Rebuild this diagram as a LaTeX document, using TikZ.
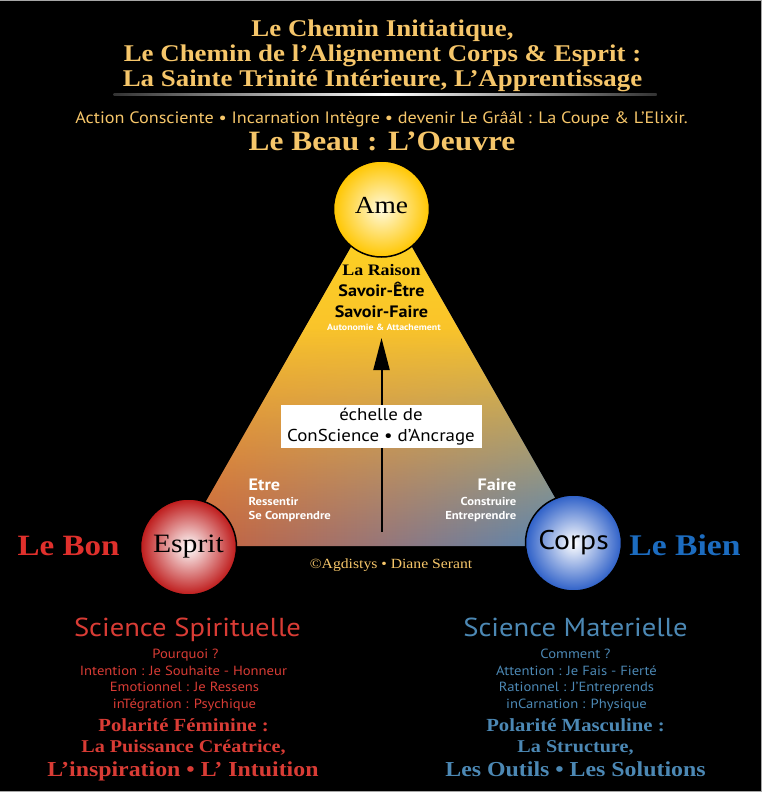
\documentclass[tikz,border=0pt]{standalone}
\usepackage{fontspec}
\setmainfont{Liberation Serif}[FakeStretch=1.12]
\setsansfont{PT Sans}[FakeStretch=1.1]
\usepackage{tikz}
\usetikzlibrary{arrows.meta,fadings}

\definecolor{gold}{RGB}{246,198,106}
\definecolor{bonred}{RGB}{224,48,44}
\definecolor{bienblue}{RGB}{28,108,192}
\definecolor{spired}{RGB}{217,60,53}
\definecolor{matblue}{RGB}{76,136,180}
\definecolor{rust}{RGB}{206,98,54}
\definecolor{mauve}{RGB}{150,118,122}
\definecolor{steel}{RGB}{78,138,188}
\definecolor{ameyellow}{RGB}{255,214,30}
\definecolor{ameorange}{RGB}{240,166,62}
\definecolor{amelight}{RGB}{255,250,222}
\definecolor{amegold}{RGB}{255,198,0}
\definecolor{espred}{RGB}{190,26,26}
\definecolor{corpsblue}{RGB}{46,96,200}

\pgfdeclareverticalshading{warmshade}{100bp}{color(0bp)=(transparent!100); color(25bp)=(transparent!100); color(38bp)=(transparent!55); color(56bp)=(transparent!0); color(100bp)=(transparent!0)}
\tikzfading[name=warmfade, shading=warmshade]

\newcommand{\fsz}[1]{\fontsize{#1}{#1}\selectfont}

\begin{document}
\begin{tikzpicture}[x=1pt,y=-1pt,
  every node/.style={anchor=base,inner sep=0pt},
  title/.style={text=gold,font=\fsz{24}\bfseries},
  ball/.style={circle,anchor=center,minimum size=96pt,draw=black,line width=1.5pt},
  gauche/.style={text=spired},
  droite/.style={text=matblue}]

\fill[black] (0,0) rectangle (761,792);
\draw[gray!70,line width=1pt] (0,0.5) -- (760.5,0.5) -- (760.5,791.5) -- (0,791.5);

% titre
\node[title] (t1) at (382,37) {Le Chemin Initiatique,};
\node[title] (t2) at (382,62) {Le Chemin de l’Alignement Corps \& Esprit :};
\node[title] (t3) at (382,86) {La Sainte Trinité Intérieure, L’Apprentissage};
\shade[left color=gray!40!black,right color=gray!40!black,middle color=white] (113,93.6) rectangle (656,95);
\node[text=gold,font=\sffamily\fsz{16.5}] (t4) at (381,123) {Action Consciente • Incarnation Intègre • devenir Le Grââl : La Coupe \& L’Elixir.};
\node[text=gold,font=\fsz{28}\bfseries] (beau) at (381.5,150) {Le Beau : L’Oeuvre};

% triangle
\coordinate (apex) at (381,194);
\coordinate (bl) at (180,546);
\coordinate (br) at (582,546);
\shade[left color=rust,right color=steel,middle color=mauve] (apex) -- (br) -- (bl) -- cycle;
\shade[top color=ameyellow,bottom color=ameorange,path fading=warmfade] (apex) -- (br) -- (bl) -- cycle;

\node[font=\fsz{16}\bfseries] (raison) at (381,275.7) {La Raison};
\node[font=\sffamily\bfseries\fsz{16.5}] (se) at (381,296) {Savoir-Être};
\node[font=\sffamily\bfseries\fsz{16.5}] (sf) at (381,317.7) {Savoir-Faire};
\node[text=white,font=\sffamily\bfseries\fsz{9}] (auto) at (383.5,330.7) {Autonomie \& Attachement};

\coordinate (bas) at (381,532);
\coordinate (haut) at (381,338);
\draw[line width=2pt,-{Triangle[width=16pt,length=32pt]}] (bas) -- (haut);
\node[anchor=center,fill=white,minimum width=201pt,minimum height=43pt,align=center,font=\sffamily\fontsize{17.2}{20.6}\selectfont] (echelle) at (380.5,426.5) {échelle de\\ConScience • d’Ancrage};

\node[anchor=base west,text=white,font=\sffamily\bfseries\fsz{16.5}] (etre) at (248,490.7) {Etre};
\node[anchor=base west,text=white,font=\sffamily\bfseries\fsz{11.5}] (e1) at (248,505) {Ressentir};
\node[anchor=base west,text=white,font=\sffamily\bfseries\fsz{11.5}] (e2) at (248,519) {Se Comprendre};
\node[anchor=base east,text=white,font=\sffamily\bfseries\fsz{16.5}] (faire) at (516,490.7) {Faire};
\node[anchor=base east,text=white,font=\sffamily\bfseries\fsz{11.5}] (f1) at (516,505) {Construire};
\node[anchor=base east,text=white,font=\sffamily\bfseries\fsz{11.5}] (f2) at (516,519) {Entreprendre};

% les trois spheres
\node[ball,inner color=amelight,outer color=amegold,font=\fsz{24.5},text depth=8pt] (ame) at (381,209) {Ame};
\node[ball,inner color=white,outer color=espred,font=\fsz{26.5}] (esprit) at (188,547) {Esprit};
\node[ball,inner color=white,outer color=corpsblue,font=\sffamily\fsz{27}] (corps) at (573,543) {Corps};

\node[text=bonred,font=\fsz{29.5}\bfseries] (bon) at (68,555) {Le Bon};
\node[text=bienblue,font=\fsz{30}\bfseries] (bien) at (684.5,555) {Le Bien};
\node[text=gold,font=\fsz{14}] (copy) at (390.5,568) {©Agdistys • Diane Serant};

% gauche
\node[gauche,font=\sffamily\fsz{26}] (sg) at (187,636) {Science Spirituelle};
\node[gauche,font=\sffamily\fsz{13.3}] (g1) at (185,658) {Pourquoi ?};
\node[gauche,font=\sffamily\fsz{13.3}] (g2) at (183,675.7) {Intention : Je Souhaite - Honneur};
\node[gauche,font=\sffamily\fsz{13.3}] (g3) at (184,691.7) {Emotionnel : Je Ressens};
\node[gauche,font=\sffamily\fsz{13.3}] (g4) at (184,708.3) {inTégration : Psychique};
\node[gauche,font=\fsz{18.5}\bfseries] (g5) at (183,731.7) {Polarité Féminine :};
\node[gauche,font=\fsz{18}\bfseries] (g6) at (183,752.7) {La Puissance Créatrice,};
\node[gauche,font=\fsz{21.3}\bfseries] (g7) at (182.5,776) {L’inspiration • L’ Intuition};

% droite
\node[droite,font=\sffamily\fsz{26}] (sd) at (575,636) {Science Materielle};
\node[droite,font=\sffamily\fsz{13.3}] (d1) at (575,658) {Comment ?};
\node[droite,font=\sffamily\fsz{13.3}] (d2) at (576,675.7) {Attention : Je Fais - Fierté};
\node[droite,font=\sffamily\fsz{13.3}] (d3) at (576,691.7) {Rationnel : J’Entreprends};
\node[droite,font=\sffamily\fsz{13.3}] (d4) at (576,708.3) {inCarnation : Physique};
\node[droite,font=\fsz{18.5}\bfseries] (d5) at (575,731.7) {Polarité Masculine :};
\node[droite,font=\fsz{18}\bfseries] (d6) at (575,752.7) {La Structure,};
\node[droite,font=\fsz{21.3}\bfseries] (d7) at (575,776) {Les Outils • Les Solutions};

\end{tikzpicture}
\end{document}
